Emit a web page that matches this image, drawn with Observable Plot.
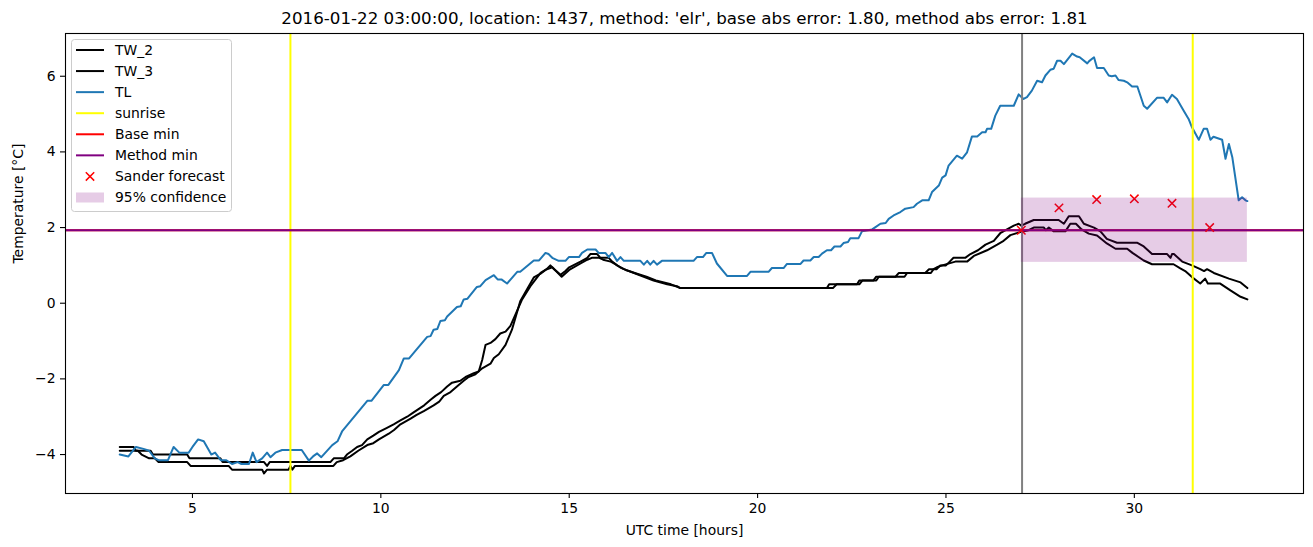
<!DOCTYPE html>
<html><head><meta charset="utf-8">
<script src="https://cdn.jsdelivr.net/npm/d3@7"></script>
<script src="https://cdn.jsdelivr.net/npm/@observablehq/plot@0.6"></script>
<style>
body{margin:0;background:#fff;}
#chart{position:relative;width:1313px;height:547px;font-family:"DejaVu Sans",sans-serif;}
#legend{position:absolute;left:71px;top:39px;}
</style></head><body><div id="chart"></div>
<script>
const title = "2016-01-22 03:00:00, location: 1437, method: 'elr', base abs error: 1.80, method abs error: 1.81";
const xLabel = "UTC time [hours]";
const yLabel = "Temperature [°C]";
const xTicks = [5, 10, 15, 20, 25, 30];
const yTicks = [-4, -2, 0, 2, 4, 6];

// [UTC hour, temperature]
const tw2Series = [[3.07,-3.8],[3.44,-3.8],[3.5,-3.9],[3.89,-3.9],[3.95,-4.0],[4.86,-4.0],[4.92,-4.1],[5.74,-4.1],[5.8,-4.2],[6.9,-4.2],[6.98,-4.3],[7.05,-4.2],[8.66,-4.2],[8.75,-4.1],[9.02,-4.1],[9.1,-4.0],[9.24,-3.9],[9.37,-3.8],[9.5,-3.75],[9.64,-3.6],[9.8,-3.5],[9.95,-3.4],[10.15,-3.3],[10.34,-3.2],[10.52,-3.1],[10.7,-3.0],[10.85,-2.9],[11.0,-2.8],[11.15,-2.7],[11.32,-2.55],[11.45,-2.45],[11.6,-2.35],[11.76,-2.2],[11.89,-2.1],[12.11,-2.05],[12.25,-1.95],[12.47,-1.85],[12.6,-1.8],[12.69,-1.5],[12.78,-1.1],[12.91,-1.05],[13.04,-0.95],[13.17,-0.8],[13.31,-0.75],[13.44,-0.6],[13.75,0.1],[13.97,0.45],[14.24,0.8],[14.4,0.9],[14.5,1.0],[14.6,0.9],[14.77,0.75],[14.9,0.85],[15.0,0.95],[15.3,1.1],[15.48,1.2],[15.56,1.3],[15.74,1.3],[15.83,1.2],[16.05,1.2],[16.14,1.1],[16.27,1.0],[16.45,0.9],[16.72,0.8],[16.98,0.7],[17.24,0.6],[17.6,0.5],[17.86,0.45],[17.95,0.4],[21.84,0.4],[21.9,0.5],[22.64,0.5],[22.7,0.6],[23.07,0.6],[23.15,0.7],[23.66,0.7],[23.75,0.8],[24.45,0.8],[24.55,0.9],[24.75,0.9],[24.85,1.0],[25.0,1.0],[25.1,1.1],[25.2,1.2],[25.51,1.2],[25.65,1.3],[25.85,1.4],[26.05,1.55],[26.27,1.65],[26.44,1.85],[26.62,1.95],[26.8,2.05],[26.93,2.1],[27.0,2.05],[27.1,2.1],[27.33,2.2],[27.99,2.2],[28.13,2.1],[28.26,2.3],[28.53,2.3],[28.66,2.1],[28.93,2.0],[29.1,1.9],[29.27,1.7],[29.54,1.6],[30.07,1.6],[30.25,1.5],[30.47,1.3],[30.87,1.3],[30.96,1.2],[31.0,1.3],[31.05,1.3],[31.27,1.1],[31.53,1.0],[31.75,0.9],[31.85,0.85],[31.93,0.9],[32.11,0.8],[32.51,0.65],[32.82,0.55],[33.0,0.4]];

const tw3Series = [[3.07,-3.9],[3.55,-3.9],[3.65,-4.0],[3.85,-4.1],[4.0,-4.1],[4.1,-4.2],[4.86,-4.2],[4.95,-4.3],[5.96,-4.3],[6.05,-4.4],[6.85,-4.4],[6.9,-4.5],[6.98,-4.4],[7.55,-4.4],[7.6,-4.3],[7.65,-4.4],[7.72,-4.3],[8.74,-4.3],[8.83,-4.2],[9.0,-4.15],[9.19,-4.05],[9.4,-3.9],[9.64,-3.75],[9.8,-3.7],[9.95,-3.6],[10.21,-3.45],[10.35,-3.35],[10.52,-3.2],[10.79,-3.05],[10.95,-2.95],[11.14,-2.85],[11.4,-2.7],[11.55,-2.6],[11.67,-2.45],[11.85,-2.35],[12.02,-2.2],[12.2,-2.05],[12.33,-1.95],[12.51,-1.88],[12.69,-1.72],[12.91,-1.6],[13.0,-1.45],[13.13,-1.35],[13.31,-1.1],[13.48,-0.7],[13.7,0.05],[13.9,0.4],[14.06,0.68],[14.24,0.78],[14.37,0.88],[14.55,0.95],[14.65,0.85],[14.8,0.7],[15.0,0.88],[15.3,1.05],[15.48,1.15],[15.6,1.2],[15.8,1.2],[15.9,1.15],[16.1,1.1],[16.2,1.05],[16.35,0.95],[16.5,0.88],[16.8,0.78],[17.05,0.7],[17.3,0.6],[17.7,0.5],[17.95,0.4],[22.0,0.4],[22.1,0.5],[22.7,0.5],[22.78,0.6],[23.15,0.6],[23.22,0.7],[23.9,0.7],[23.97,0.8],[24.6,0.8],[24.67,0.9],[24.76,0.95],[24.9,1.0],[25.25,1.1],[25.56,1.1],[25.74,1.25],[26.09,1.4],[26.36,1.55],[26.53,1.65],[26.71,1.8],[26.97,1.88],[27.19,1.93],[27.33,2.0],[27.6,2.0],[27.65,1.93],[27.73,2.0],[27.86,1.9],[28.17,1.9],[28.3,2.1],[28.45,2.1],[28.6,1.95],[28.79,1.84],[29.01,1.79],[29.27,1.58],[29.5,1.44],[29.81,1.44],[29.95,1.33],[30.25,1.13],[30.47,1.03],[31.04,1.03],[31.22,0.92],[31.35,0.85],[31.53,0.69],[31.75,0.52],[31.88,0.65],[31.95,0.52],[32.28,0.52],[32.55,0.34],[32.82,0.17],[33.0,0.1]];

const tlSeries = [[3.07,-4.0],[3.3,-4.05],[3.5,-3.8],[3.7,-3.85],[3.85,-3.9],[4.0,-4.1],[4.1,-4.15],[4.35,-4.15],[4.5,-3.8],[4.65,-3.95],[4.9,-3.95],[5.0,-3.8],[5.15,-3.6],[5.3,-3.65],[5.5,-4.0],[5.6,-3.95],[5.75,-4.15],[5.9,-4.15],[6.05,-4.25],[6.2,-4.2],[6.3,-4.25],[6.5,-4.25],[6.6,-3.95],[6.7,-4.2],[6.85,-4.1],[6.98,-3.95],[7.07,-4.07],[7.2,-3.95],[7.38,-3.88],[7.9,-3.88],[8.09,-4.16],[8.2,-4.05],[8.31,-3.97],[8.42,-4.07],[8.71,-3.75],[8.85,-3.65],[8.97,-3.39],[9.64,-2.58],[9.75,-2.58],[10.08,-2.16],[10.2,-2.16],[10.48,-1.77],[10.61,-1.46],[10.75,-1.46],[11.23,-0.89],[11.32,-0.87],[11.4,-0.7],[11.5,-0.68],[11.58,-0.47],[11.7,-0.45],[11.76,-0.35],[12.02,-0.1],[12.12,-0.08],[12.2,0.1],[12.3,0.12],[12.55,0.43],[12.64,0.45],[12.78,0.61],[13.0,0.74],[13.1,0.63],[13.2,0.63],[13.35,0.52],[13.62,0.83],[13.7,0.83],[14.06,1.13],[14.2,1.13],[14.37,1.33],[14.45,1.3],[14.55,1.2],[14.72,1.12],[14.9,1.12],[14.99,1.22],[15.26,1.22],[15.34,1.33],[15.48,1.42],[15.7,1.42],[15.78,1.33],[15.96,1.33],[16.05,1.22],[16.14,1.33],[16.27,1.12],[16.36,1.22],[16.45,1.12],[16.89,1.12],[16.98,1.02],[17.07,1.12],[17.15,1.02],[17.24,1.12],[17.33,1.02],[17.46,1.12],[18.3,1.12],[18.39,1.22],[18.55,1.22],[18.64,1.33],[18.79,1.33],[18.92,1.05],[19.19,0.72],[19.72,0.72],[19.81,0.83],[20.29,0.83],[20.38,0.93],[20.69,0.93],[20.78,1.04],[21.14,1.04],[21.22,1.13],[21.4,1.13],[21.49,1.22],[21.62,1.22],[21.71,1.31],[21.84,1.4],[21.95,1.4],[22.04,1.5],[22.2,1.5],[22.28,1.59],[22.4,1.62],[22.46,1.72],[22.68,1.72],[22.77,1.9],[23.04,1.95],[23.13,2.01],[23.26,2.1],[23.4,2.12],[23.48,2.23],[23.61,2.32],[23.79,2.41],[23.92,2.5],[24.14,2.54],[24.23,2.63],[24.37,2.72],[24.54,2.72],[24.63,2.94],[24.81,3.11],[24.9,3.32],[24.99,3.38],[25.07,3.64],[25.29,3.9],[25.43,3.82],[25.56,3.99],[25.69,4.41],[25.83,4.41],[25.96,4.52],[26.05,4.52],[26.09,4.61],[26.2,4.61],[26.31,4.96],[26.44,5.22],[26.8,5.22],[26.93,5.52],[27.06,5.4],[27.15,5.45],[27.28,5.62],[27.42,5.88],[27.55,5.84],[27.64,6.02],[27.77,6.17],[27.86,6.2],[27.95,6.41],[28.04,6.41],[28.13,6.32],[28.35,6.6],[28.48,6.52],[28.55,6.5],[28.75,6.34],[28.8,6.4],[28.93,6.5],[29.01,6.22],[29.19,6.22],[29.32,6.02],[29.4,6.0],[29.5,6.02],[29.58,5.9],[29.72,5.88],[29.81,5.84],[29.94,5.73],[30.08,5.73],[30.16,5.49],[30.25,5.22],[30.34,5.14],[30.6,5.43],[30.78,5.43],[30.87,5.31],[31.0,5.51],[31.13,5.4],[31.31,5.09],[31.44,4.87],[31.53,4.65],[31.71,4.32],[31.84,4.61],[31.93,4.61],[32.02,4.32],[32.1,4.4],[32.33,4.32],[32.42,3.82],[32.51,4.21],[32.6,3.86],[32.77,2.72],[32.86,2.8],[32.95,2.72],[33.0,2.7]];

const sunriseTimes = [7.6, 31.55];
const forecastStartTime = [27.02];
const baseMin = [1.93];
const methodMin = [1.93];
const sanderTime = [27, 28, 29, 30, 31, 32];
const sanderTemp = [1.93, 2.52, 2.74, 2.76, 2.64, 2.0];
const confTime = [27, 33];
const confLow = [1.08, 1.08];
const confHigh = [2.78, 2.78];
const legendLabels = ["TW_2", "TW_3", "TL", "sunrise", "Base min", "Method min", "Sander forecast", "95% confidence"];
const legendColors = ["black", "black", "#1f77b4", "yellow", "red", "purple", "red", "purple"];

const sander = sanderTime.map((t, i) => ({t, v: sanderTemp[i]}));
const conf = [{x1: confTime[0], x2: confTime[1], y1: confLow[0], y2: confHigh[0]}];

const plot = Plot.plot({
  width: 1313, height: 547,
  marginLeft: 65, marginRight: 10, marginTop: 33, marginBottom: 54,
  style: {fontFamily: "DejaVu Sans, sans-serif", fontSize: "13.9px", color: "black", background: "white"},
  x: {domain: [1.63, 34.49]},
  y: {domain: [-5.03, 7.13]},
  marks: [
    Plot.line(tw2Series, {x: d => d[0], y: d => d[1], stroke: "black", strokeWidth: 2}),
    Plot.line(tw3Series, {x: d => d[0], y: d => d[1], stroke: "black", strokeWidth: 2}),
    Plot.line(tlSeries, {x: d => d[0], y: d => d[1], stroke: "#1f77b4", strokeWidth: 2}),
    Plot.ruleX(sunriseTimes, {x: d => d, stroke: "yellow", strokeWidth: 2}),
    Plot.ruleX(forecastStartTime, {x: d => d, stroke: "gray", strokeWidth: 2}),
    Plot.ruleY(baseMin, {y: d => d, stroke: "red", strokeWidth: 2}),
    Plot.ruleY(methodMin, {y: d => d, stroke: "purple", strokeWidth: 2}),
    Plot.dot(sander, {x: "t", y: "v", symbol: "times", r: 3.9, stroke: "red", strokeWidth: 1.5}),
    Plot.rect(conf, {x1: "x1", x2: "x2", y1: "y1", y2: "y2", fill: "purple", fillOpacity: 0.2}),
    Plot.frame({stroke: "black", strokeWidth: 1.1}),
    Plot.axisX({ticks: xTicks, tickSize: 5, tickPadding: 5, label: null, strokeWidth: 1.1}),
    Plot.axisY({ticks: yTicks, tickSize: 5, tickPadding: 5, label: null, strokeWidth: 1.1}),
    Plot.text([title], {text: d => d, frameAnchor: "top", dy: -10, lineAnchor: "bottom", fontSize: 16.7}),
    Plot.text([xLabel], {text: d => d, frameAnchor: "bottom", dy: 37, lineAnchor: "middle"}),
    Plot.text([yLabel], {text: d => d, frameAnchor: "left", dx: -47, rotate: -90, lineAnchor: "middle"})
  ]
});
const chart = document.getElementById("chart");
chart.appendChild(plot);

// legend
const lg = d3.select(chart).append("svg").attr("id", "legend").attr("width", 162).attr("height", 174)
  .style("font-family", "DejaVu Sans, sans-serif").style("font-size", "13.9px");
lg.append("rect").attr("x", 0.5).attr("y", 0.5).attr("width", 160).attr("height", 172).attr("rx", 3)
  .attr("fill", "white").attr("fill-opacity", 0.8).attr("stroke", "#cccccc");
legendLabels.forEach((lab, i) => {
  const cy = 11 + 21.07 * i;
  const c = legendColors[i];
  if (i < 6) {
    lg.append("line").attr("x1", 5).attr("x2", 33).attr("y1", cy).attr("y2", cy).attr("stroke", c).attr("stroke-width", 2);
  } else if (i === 6) {
    const s = 4.2;
    lg.append("path").attr("d", `M${19 - s},${cy - s}L${19 + s},${cy + s}M${19 - s},${cy + s}L${19 + s},${cy - s}`).attr("stroke", c).attr("stroke-width", 1.5);
  } else {
    lg.append("rect").attr("x", 5).attr("y", cy - 5).attr("width", 28).attr("height", 10).attr("fill", c).attr("fill-opacity", 0.2);
  }
  lg.append("text").attr("x", 44).attr("y", cy).attr("dy", "0.35em").attr("fill", "black").text(lab);
});
</script></body></html>
